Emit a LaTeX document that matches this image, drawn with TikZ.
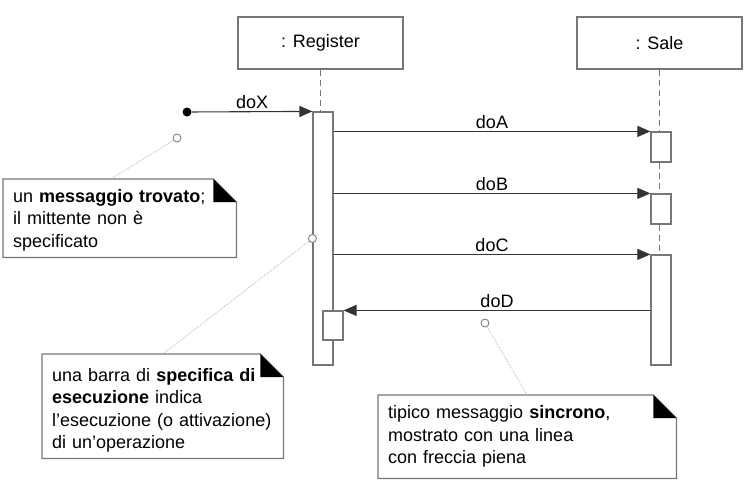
\documentclass[tikz,border=0pt]{standalone}
\usepackage{fontspec}
\setmainfont{Liberation Sans}
\usetikzlibrary{arrows.meta,backgrounds}
\definecolor{boxgray}{HTML}{767676}
\definecolor{linegray}{HTML}{333333}

\begin{document}
\begin{tikzpicture}[x=1pt,y=-1pt,
		every node/.style={font=\fontsize{18}{22.5}\selectfont},
		obj/.style={draw=boxgray,line width=1.2pt,minimum width=165pt,minimum height=52pt},
		act/.style={draw=boxgray,line width=1.2pt,fill=white,minimum width=20pt,inner sep=0pt},
		life/.style={draw=boxgray,line width=1.2pt,dash pattern=on 6pt off 4pt},
		msg/.style={draw=linegray,line width=1.1pt,-{Triangle[length=13pt,width=11pt]}},
		lbl/.style={midway,above,inner sep=2pt},
		notetxt/.style={anchor=north west,align=left,inner xsep=10pt,inner ysep=0pt},
		hint/.style={draw=gray!55,densely dotted,line width=0.8pt},
		ring/.style={circle,draw=gray,line width=0.9pt,fill=white,inner sep=0pt,minimum size=8pt}]
	\useasboundingbox (0,0) rectangle (748,480);

	% lifeline heads
	\node[obj] (reg) at (320.5,43) {: Register};
	\node[obj] (sale) at (659.5,43) {: Sale};

	% activation bars
	\node[act,minimum height=253pt] (actR) at (323,238.5) {};
	\node[act,minimum height=29pt] (actRD) at (333,325.5) {};
	\node[act,minimum height=30pt] (actS1) at (661,147) {};
	\node[act,minimum height=30pt] (actS2) at (661,209) {};
	\node[act,minimum height=110pt] (actS3) at (661,310) {};

	\draw[life] (reg.south) -- (reg.south |- actR.north);
	\draw[life] (sale.south) -- (sale.south |- actS1.north);
	\draw[life] (sale.south |- actS1.south) -- (sale.south |- actS2.north);
	\draw[life] (sale.south |- actS2.south) -- (sale.south |- actS3.north);

	% messages
	\node[circle,fill=black,inner sep=0pt,minimum size=9pt] (found) at (187,112) {};
	\draw[msg] (found) -- (actR.north west) node[lbl] {doX};
	\draw[msg] (actR.east |- actS1.north) -- (actS1.north west) node[lbl] {doA};
	\draw[msg] (actR.east |- actS2.north) -- (actS2.north west) node[lbl] {doB};
	\draw[msg] (actR.east |- actS3.north) -- (actS3.north west) node[lbl] {doC};
	\draw[msg] (actS3.west |- actRD.north) -- (actRD.north east) node[lbl] {doD};

	% notes
	\node[notetxt,text width=213pt,minimum height=78pt] (n1) at (3,181)
		{un \textbf{messaggio trovato};\\il mittente non è\\specificato};
	\node[notetxt,text width=221pt,minimum height=104pt] (n2) at (42,358)
		{una barra di \textbf{specifica di}\\\textbf{esecuzione} indica\\l’esecuzione (o attivazione)\\di un’operazione};
	\node[notetxt,text width=278pt,minimum height=83pt] (n3) at (378,395)
		{tipico messaggio \textbf{sincrono},\\mostrato con una linea\\con freccia piena};

	\begin{scope}[on background layer]
	\foreach \n/\s in {n1/2,n2/4,n3/0} {
		\fill[black!22,xshift=2pt,yshift=-2pt] ([yshift=\s pt]\n.north west) -- ([xshift=-23pt,yshift=\s pt]\n.north east)
			-- ([yshift=\s pt-23pt]\n.north east) -- ([yshift=\s pt]\n.south east) -- ([yshift=\s pt]\n.south west) -- cycle;
		\filldraw[fill=white,draw=boxgray,line width=1.2pt] ([yshift=\s pt]\n.north west) -- ([xshift=-23pt,yshift=\s pt]\n.north east)
			-- ([yshift=\s pt-23pt]\n.north east) -- ([yshift=\s pt]\n.south east) -- ([yshift=\s pt]\n.south west) -- cycle;
		\fill ([xshift=-23pt,yshift=\s pt]\n.north east) -- ([xshift=-23pt,yshift=\s pt-23pt]\n.north east)
			-- ([yshift=\s pt-23pt]\n.north east) -- cycle;
	}
	\end{scope}

	% note anchors
	\coordinate (c1) at (111,179);
	\coordinate (c2) at (163,354);
	\coordinate (c3) at (527,395);
	\node[ring] (o1) at (177,138) {};
	\node[ring] (o2) at (actR.west) {};
	\node[ring] (o3) at (485,323) {};
	\draw[hint] (o1) -- (c1);
	\draw[hint] (o2) -- (c2);
	\draw[hint] (o3) -- (c3);
\end{tikzpicture}
\end{document}
